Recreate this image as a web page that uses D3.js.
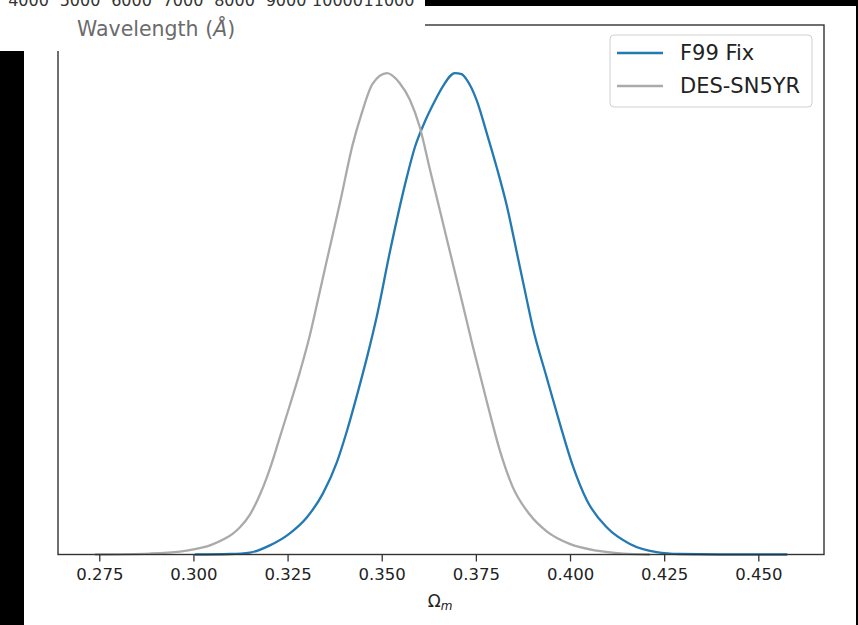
<!DOCTYPE html>
<html>
<head>
<meta charset="utf-8">
<script src="https://cdn.jsdelivr.net/npm/d3@7"></script>
<style>
  body { margin: 0; background: #fff; }
  svg { display: block; font-family: "DejaVu Sans", sans-serif; }
</style>
</head>
<body>
<svg id="chart" width="858" height="625"></svg>
<script>
// Omega_m posterior, F99 Fix (normalised to peak = 1)
var f99X = [0.3004, 0.3097, 0.3150, 0.3203, 0.3256, 0.3301, 0.3344, 0.3381, 0.3407, 0.3434,
  0.3461, 0.3487, 0.3522, 0.3567, 0.3588, 0.3615, 0.3641, 0.3662, 0.3694, 0.3712, 0.3726,
  0.3752, 0.3779, 0.3805, 0.3832, 0.3858, 0.3885, 0.3901, 0.3938, 0.3973, 0.4007, 0.4045,
  0.4098, 0.4159, 0.4230, 0.4291, 0.4397, 0.4577];
var f99Y = [0.000, 0.001, 0.004, 0.019, 0.044, 0.077, 0.127, 0.192, 0.255, 0.330,
  0.410, 0.495, 0.630, 0.785, 0.846, 0.900, 0.942, 0.972, 1.000, 0.998, 0.986,
  0.944, 0.875, 0.805, 0.725, 0.630, 0.530, 0.472, 0.368, 0.272, 0.185, 0.112,
  0.056, 0.022, 0.005, 0.001, 0.000, 0.000];

// DES-SN5YR
var desX = [0.2739, 0.2885, 0.2964, 0.3004, 0.3044, 0.3084, 0.3104, 0.3123, 0.3150, 0.3177,
  0.3203, 0.3230, 0.3256, 0.3283, 0.3309, 0.3328, 0.3354, 0.3389, 0.3423, 0.3447, 0.3476,
  0.3514, 0.3548, 0.3575, 0.3601, 0.3628, 0.3673, 0.3715, 0.3742, 0.3779, 0.3813, 0.3848,
  0.3893, 0.3938, 0.3999, 0.4071, 0.4140, 0.4212];
var desY = [0.000, 0.002, 0.006, 0.011, 0.019, 0.033, 0.043, 0.056, 0.083, 0.125,
  0.178, 0.245, 0.310, 0.380, 0.455, 0.520, 0.610, 0.730, 0.852, 0.917, 0.978,
  1.000, 0.979, 0.944, 0.888, 0.800, 0.655, 0.520, 0.432, 0.318, 0.218, 0.140,
  0.083, 0.048, 0.022, 0.008, 0.002, 0.000];

var xTicks = [0.275, 0.300, 0.325, 0.350, 0.375, 0.400, 0.425, 0.450];
var seriesNames = ["F99 Fix", "DES-SN5YR"];
var seriesColors = ["#2379b2", "#aaaaaa"];

// leftover axis of another figure pasted on top
var waveTicks = [4000, 5000, 6000, 7000, 8000, 9000, 10000, 11000];

var svg = d3.select("#chart");

var dims = { left: 58, right: 824, top: 25, bottom: 554.5 };

var xScale = d3.scaleLinear().domain([0.26404, 0.46744]).range([dims.left, dims.right]);
var yScale = d3.scaleLinear().domain([0, 1.1]).range([dims.bottom, dims.top]);

var bounds = svg.append("g");

var line = d3.line()
  .x(function (d) { return xScale(d[0]); })
  .y(function (d) { return yScale(d[1]); })
  .curve(d3.curveMonotoneX);

var desData = desX.map(function (x, i) { return [x, desY[i]]; });
var f99Data = f99X.map(function (x, i) { return [x, f99Y[i]]; });

bounds.append("path")
  .datum(f99Data)
  .attr("d", line)
  .attr("fill", "none")
  .attr("stroke", seriesColors[0])
  .attr("stroke-width", 2.3);

bounds.append("path")
  .datum(desData)
  .attr("d", line)
  .attr("fill", "none")
  .attr("stroke", seriesColors[1])
  .attr("stroke-width", 2.3);

// x axis
var xAxis = d3.axisBottom(xScale)
  .tickValues(xTicks)
  .tickFormat(d3.format(".3f"))
  .tickSize(7)
  .tickPadding(7)
  .tickSizeOuter(0);

var xg = svg.append("g")
  .attr("transform", "translate(0," + dims.bottom + ")")
  .call(xAxis);
xg.select(".domain").remove();
xg.selectAll("line").attr("stroke", "#333").attr("stroke-width", 1.3);
xg.selectAll("text")
  .attr("fill", "#222")
  .style("font-size", "16.5px")
  .style("font-family", "DejaVu Sans");

// frame
svg.append("rect")
  .attr("x", dims.left)
  .attr("y", dims.top)
  .attr("width", dims.right - dims.left)
  .attr("height", dims.bottom - dims.top)
  .attr("fill", "none")
  .attr("stroke", "#333")
  .attr("stroke-width", 1.4);

// x label
var xLabel = svg.append("text")
  .attr("x", 440)
  .attr("y", 607)
  .attr("text-anchor", "middle")
  .attr("fill", "#222")
  .style("font-size", "17px");
xLabel.append("tspan").text("Ω");
xLabel.append("tspan").attr("font-style", "italic").attr("font-size", "12px").attr("dy", 3).text("m");

// legend
var legend = svg.append("g");
legend.append("rect")
  .attr("x", 610).attr("y", 35)
  .attr("width", 202).attr("height", 72)
  .attr("rx", 4)
  .attr("fill", "#fff").attr("fill-opacity", 0.85)
  .attr("stroke", "#d0d0d0");

seriesNames.forEach(function (name, i) {
  var ly = 53 + i * 33;
  legend.append("line")
    .attr("x1", 617).attr("x2", 663)
    .attr("y1", ly).attr("y2", ly)
    .attr("stroke", seriesColors[i])
    .attr("stroke-width", 2.6);
  legend.append("text")
    .attr("x", 680)
    .attr("y", ly + 7)
    .attr("fill", "#222")
    .style("font-size", "21px")
    .text(name);
});

// overlapping pieces of the page around the figure
svg.append("rect").attr("x", 0).attr("y", 0).attr("width", 425).attr("height", 51).attr("fill", "#fff");
svg.append("rect").attr("x", 0).attr("y", 51).attr("width", 24).attr("height", 574).attr("fill", "#000");
svg.append("rect").attr("x", 425).attr("y", 0).attr("width", 433).attr("height", 6).attr("fill", "#000");
svg.append("rect").attr("x", 856).attr("y", 0).attr("width", 2).attr("height", 625).attr("fill", "#000");

var waveScale = d3.scaleLinear().domain([4000, 11000]).range([28.5, 389]);
svg.append("g")
  .selectAll("text")
  .data(waveTicks)
  .enter()
  .append("text")
  .attr("x", function (d) { return waveScale(d); })
  .attr("y", 5.5)
  .attr("text-anchor", "middle")
  .attr("fill", "#333")
  .style("font-size", "16px")
  .text(function (d) { return d; });

var wl = svg.append("text")
  .attr("x", 77)
  .attr("y", 36)
  .attr("fill", "#6b6b6b")
  .style("font-size", "20.5px");
wl.append("tspan").text("Wavelength (");
wl.append("tspan").attr("font-style", "italic").text("Å");
wl.append("tspan").text(")");
</script>
</body>
</html>
